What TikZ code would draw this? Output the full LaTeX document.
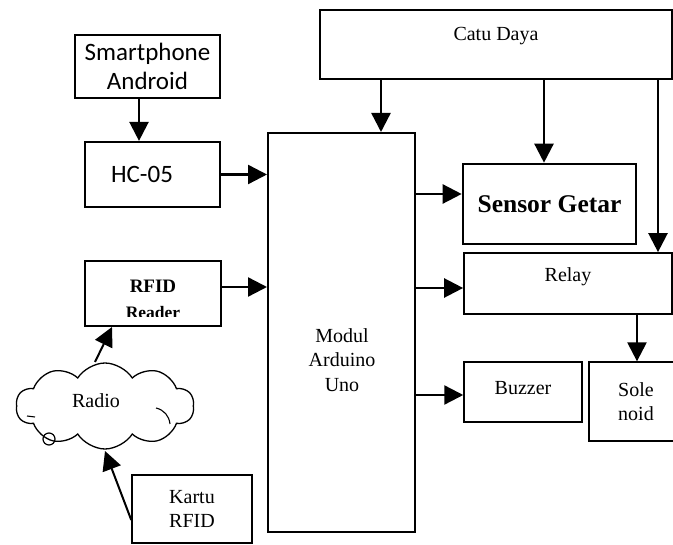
\documentclass[tikz,border=0pt]{standalone}
\usepackage{fontspec}
\setmainfont{Liberation Serif}
\newfontfamily\calfont{Carlito}
\usetikzlibrary{arrows.meta,shapes.symbols,calc}
\begin{document}
\begin{tikzpicture}[x=1pt,y=-1pt,
  box/.style={draw,rectangle,inner sep=0pt,line width=#1},
  box/.default=1.6pt,
  arr/.style={line width=2.4pt,-{Triangle[length=19pt,width=19pt]}},
  tnr/.style={font=\fontsize{20}{24.5}\selectfont,align=center,inner sep=0pt},
  cal/.style={font=\calfont\fontsize{25}{29}\selectfont,align=center,inner sep=0pt}]
\useasboundingbox (0,0) rectangle (673,545);
\clip (0,0) rectangle (673,545);
% boxes
\node[box=1.3pt,minimum width=145pt,minimum height=63pt,cal] (sp) at (147.5,66.5) {Smartphone\\Android};
\node[box=2.2pt,minimum width=135pt,minimum height=65pt] (hc) at (152.5,174.5) {};
\node[cal] (hct) at (142,174) {HC-05};
\node[box=2pt,minimum width=136pt,minimum height=65pt] (rf) at (153,293.5) {};
\begin{scope}
\clip (85,261) rectangle (221,317);
\node[tnr,font=\bfseries\fontsize{19}{20}\selectfont,anchor=base] (rft) at (153,293) {RFID};
\node[tnr,font=\bfseries\fontsize{17.5}{18}\selectfont,anchor=base] (rft2) at (153,319) {Reader};
\end{scope}
\node[box=2pt,minimum width=147pt,minimum height=399pt] (ard) at (341.5,332.5) {};
\node[tnr] (ardt) at (342,360) {Modul\\Arduino\\Uno};
\node[box=2pt,minimum width=352pt,minimum height=69pt] (cd) at (496,44.5) {};
\node[tnr] (cdt) at (496,36) {Catu Daya};
\node[box=2.6pt,minimum width=173pt,minimum height=80pt,tnr,font=\bfseries\fontsize{25.5}{28}\selectfont] (sens) at (549.5,204) {Sensor Getar};
\node[box=1.7pt,minimum width=208pt,minimum height=61pt] (rel) at (568,283.5) {};
\node[tnr] (relt) at (568,277) {Relay};
\node[box=1.5pt,minimum width=118pt,minimum height=60pt,tnr] (buz) at (523,392) {};
\node[tnr] (buzt) at (523,388) {Buzzer};
\node[box=1.3pt,minimum width=94pt,minimum height=79pt,tnr] (sol) at (636,401.5) {Sole\\noid};
\node[box=1.5pt,minimum width=120pt,minimum height=68pt,tnr] (kr) at (192,509) {Kartu\\RFID};
\node[draw,cloud,cloud puffs=10,cloud puff arc=115,aspect=2.1,line width=1.3pt,
      minimum width=178pt,minimum height=86pt,inner sep=0pt] (cl) at (105,406) {};
\node[tnr] (clt) at (96,401) {Radio};
\draw[line width=1.2pt] (49,439) circle (6pt);
\draw[line width=1.1pt] (27,416) -- (35,417);
\draw[line width=1.1pt] (156,408) to[bend left=35] (170,424);
% connectors
\draw[arr] (sp.south -| 139,0) -- (hc.north -| 139,0);
\draw[arr] (hc.east) -- (ard.west |- hc.east);
\draw[arr] (rf.east |- 0,287) -- (ard.west |- 0,287);
\draw[arr] (cd.south -| 381,0) -- (ard.north -| 381,0);
\draw[arr] (cd.south -| 544,0) -- (sens.north -| 544,0);
\draw[arr] (cd.south -| 658,0) -- (rel.north -| 658,0);
\draw[arr] (ard.east |- 0,194) -- (sens.west |- 0,194);
\draw[arr] (ard.east |- 0,288) -- (rel.west |- 0,288);
\draw[arr] (ard.east |- 0,395) -- (buz.west |- 0,395);
\draw[arr] (rel.south -| 637,0) -- (sol.north -| 637,0);
\coordinate (clTop) at (95,362);
\coordinate (clBot) at (105,451);
\draw[arr,line width=2pt] (clTop) -- (112,327);
\draw[arr,line width=2pt] (kr.west |- 0,520) -- (clBot);
\end{tikzpicture}
\end{document}
